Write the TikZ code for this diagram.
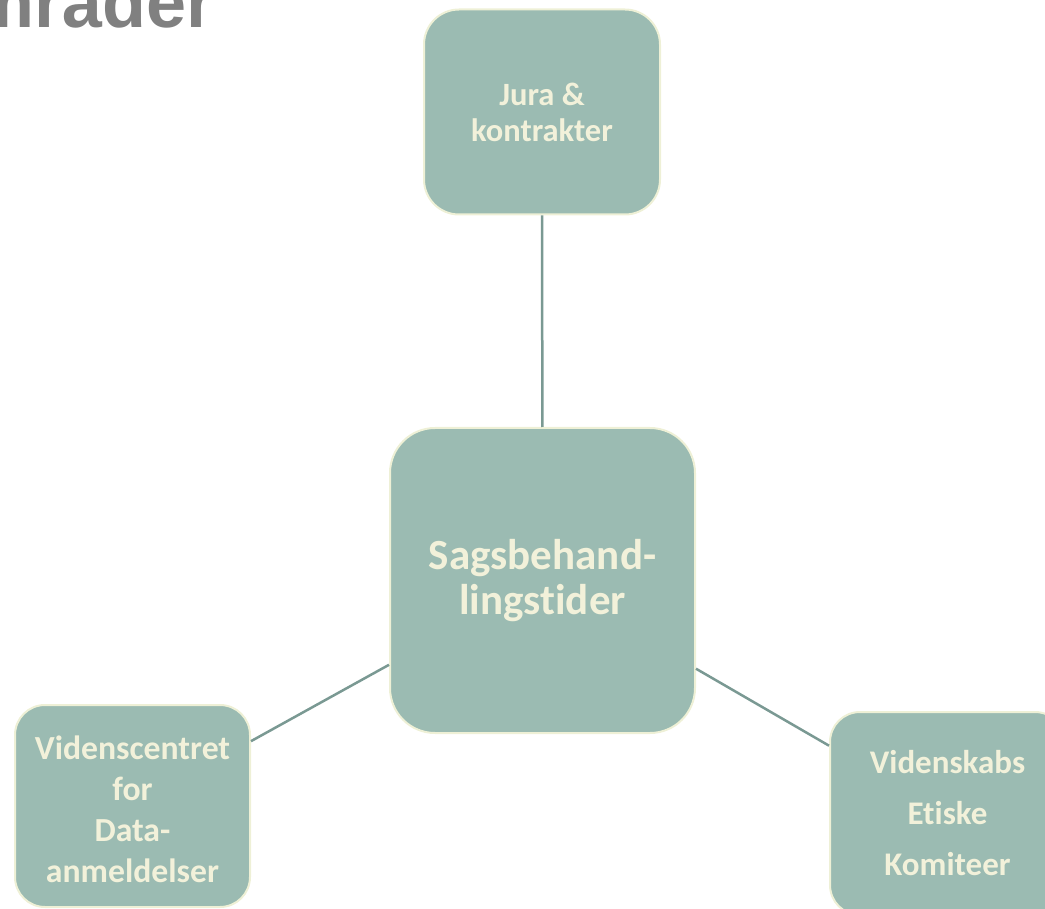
\documentclass[tikz,border=0pt]{standalone}
\usepackage{fontspec}
\setmainfont{Carlito}[Ligatures=NoCommon]
\newfontfamily\titlefont{Liberation Sans}
\definecolor{boxfill}{RGB}{155,187,178}
\definecolor{boxedge}{RGB}{238,240,214}
\definecolor{boxtext}{RGB}{242,241,218}
\definecolor{linkcol}{RGB}{122,153,147}
\definecolor{titlecol}{RGB}{128,128,128}
\tikzset{
  box/.style={draw=boxedge, line width=2pt, fill=boxfill, text=boxtext,
    align=center, font=\bfseries, inner sep=0pt},
  boxlabel/.style={text=boxtext, align=center, inner sep=0pt},
  link/.style={draw=linkcol, line width=2.5pt}
}
\begin{document}
\begin{tikzpicture}[x=1pt,y=-1pt]
\useasboundingbox (0,0) rectangle (1045,909);
\clip (0,0) rectangle (1045,909);
\node[anchor=base east, inner sep=0pt, text=titlecol, font=\titlefont\bfseries\fontsize{72}{80}\selectfont] (title) at (215,28) {områder};
\node[box, minimum width=236pt, minimum height=205pt, rounded corners=35pt,
  font=\bfseries\fontsize{32.5}{36}\selectfont] (jura) at (542,112) {Jura \&\\kontrakter};
\node[box, minimum width=305pt, minimum height=305pt, rounded corners=45pt,
  font=\bfseries\fontsize{43}{45}\selectfont] (sag) at (542.5,580.5) {Sagsbehand-\\lingstider};
\node[box, minimum width=235pt, minimum height=202pt, rounded corners=30pt] (vid) at (132.5,806) {};
\node[boxlabel, font=\bfseries\fontsize{33.7}{41}\selectfont] (vidtext) at ([yshift=-3pt]vid.center) {Videnscentret\\for\\Data-\\anmeldelser};
\node[box, minimum width=235pt, minimum height=203pt, rounded corners=30pt,
  font=\bfseries\fontsize{33}{51}\selectfont] (etik) at (947.5,813.5) {Videnskabs\\Etiske\\Komiteer};
\draw[link] (jura) -- (sag);
\draw[link] (sag) -- (vid);
\draw[link] (sag) -- (etik);
\end{tikzpicture}
\end{document}
